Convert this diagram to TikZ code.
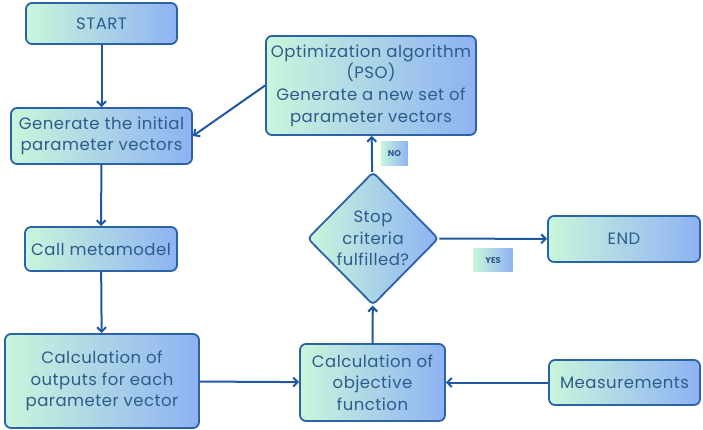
\documentclass[tikz,border=0pt]{standalone}
\usepackage{fontspec}
\setmainfont{Poppins}
\usetikzlibrary{shapes.geometric,arrows.meta}
\definecolor{boxleft}{HTML}{C9F6DB}
\definecolor{boxright}{HTML}{8EB2F3}
\definecolor{boxline}{HTML}{2C62A6}
\definecolor{boxtext}{HTML}{2E5B8C}
\definecolor{arrowcol}{HTML}{1F57A2}
\tikzset{
  stepbox/.style={rectangle, rounded corners=6pt, draw=boxline, line width=1.8pt,
    left color=boxleft, right color=boxright, text=boxtext,
    font=\fontsize{16.5}{21.7}\selectfont\addfontfeature{LetterSpace=3}, align=center, inner sep=0pt},
  decision/.style={diamond, rounded corners=4pt, draw=boxline, line width=1.8pt,
    left color=boxleft, right color=boxright, text=boxtext,
    font=\fontsize{16.5}{21.7}\selectfont\addfontfeature{LetterSpace=3}, align=center, inner sep=-6pt},
  tag/.style={rectangle, left color=boxleft, right color=boxright, text=boxtext,
    font=\fontsize{8.5}{9}\selectfont\bfseries, inner sep=0pt},
  flow/.style={draw=arrowcol, line width=2pt, -{Straight Barb[length=4.5pt,width=9pt]}}
}

\begin{document}
\begin{tikzpicture}[x=1pt,y=-1pt]
\useasboundingbox (0,0) rectangle (703,429);
% left column
\node[stepbox, minimum width=151, minimum height=41] (start) at (101.5,23.5) {START};
\node[stepbox, minimum width=181, minimum height=56] (init) at (101.5,136) {Generate the initial\\parameter vectors};
\node[stepbox, minimum width=152, minimum height=44] (meta) at (101,249) {Call metamodel};
\node[stepbox, minimum width=194, minimum height=94] (outputs) at (102,381) {Calculation of\\outputs for each\\parameter vector};
% middle column
\node[stepbox, minimum width=210, minimum height=99] (pso) at (371,85.5) {Optimization algorithm\\(PSO)\\Generate a new set of\\parameter vectors};
\node[decision, minimum width=131, minimum height=133] (stop) at (373,238.5) {Stop\\criteria\\fulfilled?};
\node[stepbox, minimum width=145, minimum height=77] (objective) at (372.5,382.5) {Calculation of\\objective\\function};
% right column
\node[stepbox, minimum width=152, minimum height=46] (end) at (624,239) {END};
\node[stepbox, minimum width=151, minimum height=45] (meas) at (624.5,382.5) {Measurements};

\draw[flow] (start) -- (init);
\draw[flow] (init) -- (meta);
\draw[flow] (meta) -- (outputs);
\draw[flow] (outputs) -- (objective);
\draw[flow] (meas) -- (objective);
\draw[flow] (objective) -- (stop);
\draw[flow] (stop) -- node[tag, right=8pt, minimum width=27, minimum height=24] (no) {NO} (pso); %no
\draw[flow] (stop) -- node[tag, below=9pt, minimum width=39, minimum height=23] (yes) {YES} (end); %yes
\draw[flow] (pso.west) -- (init.east);
\end{tikzpicture}
\end{document}
